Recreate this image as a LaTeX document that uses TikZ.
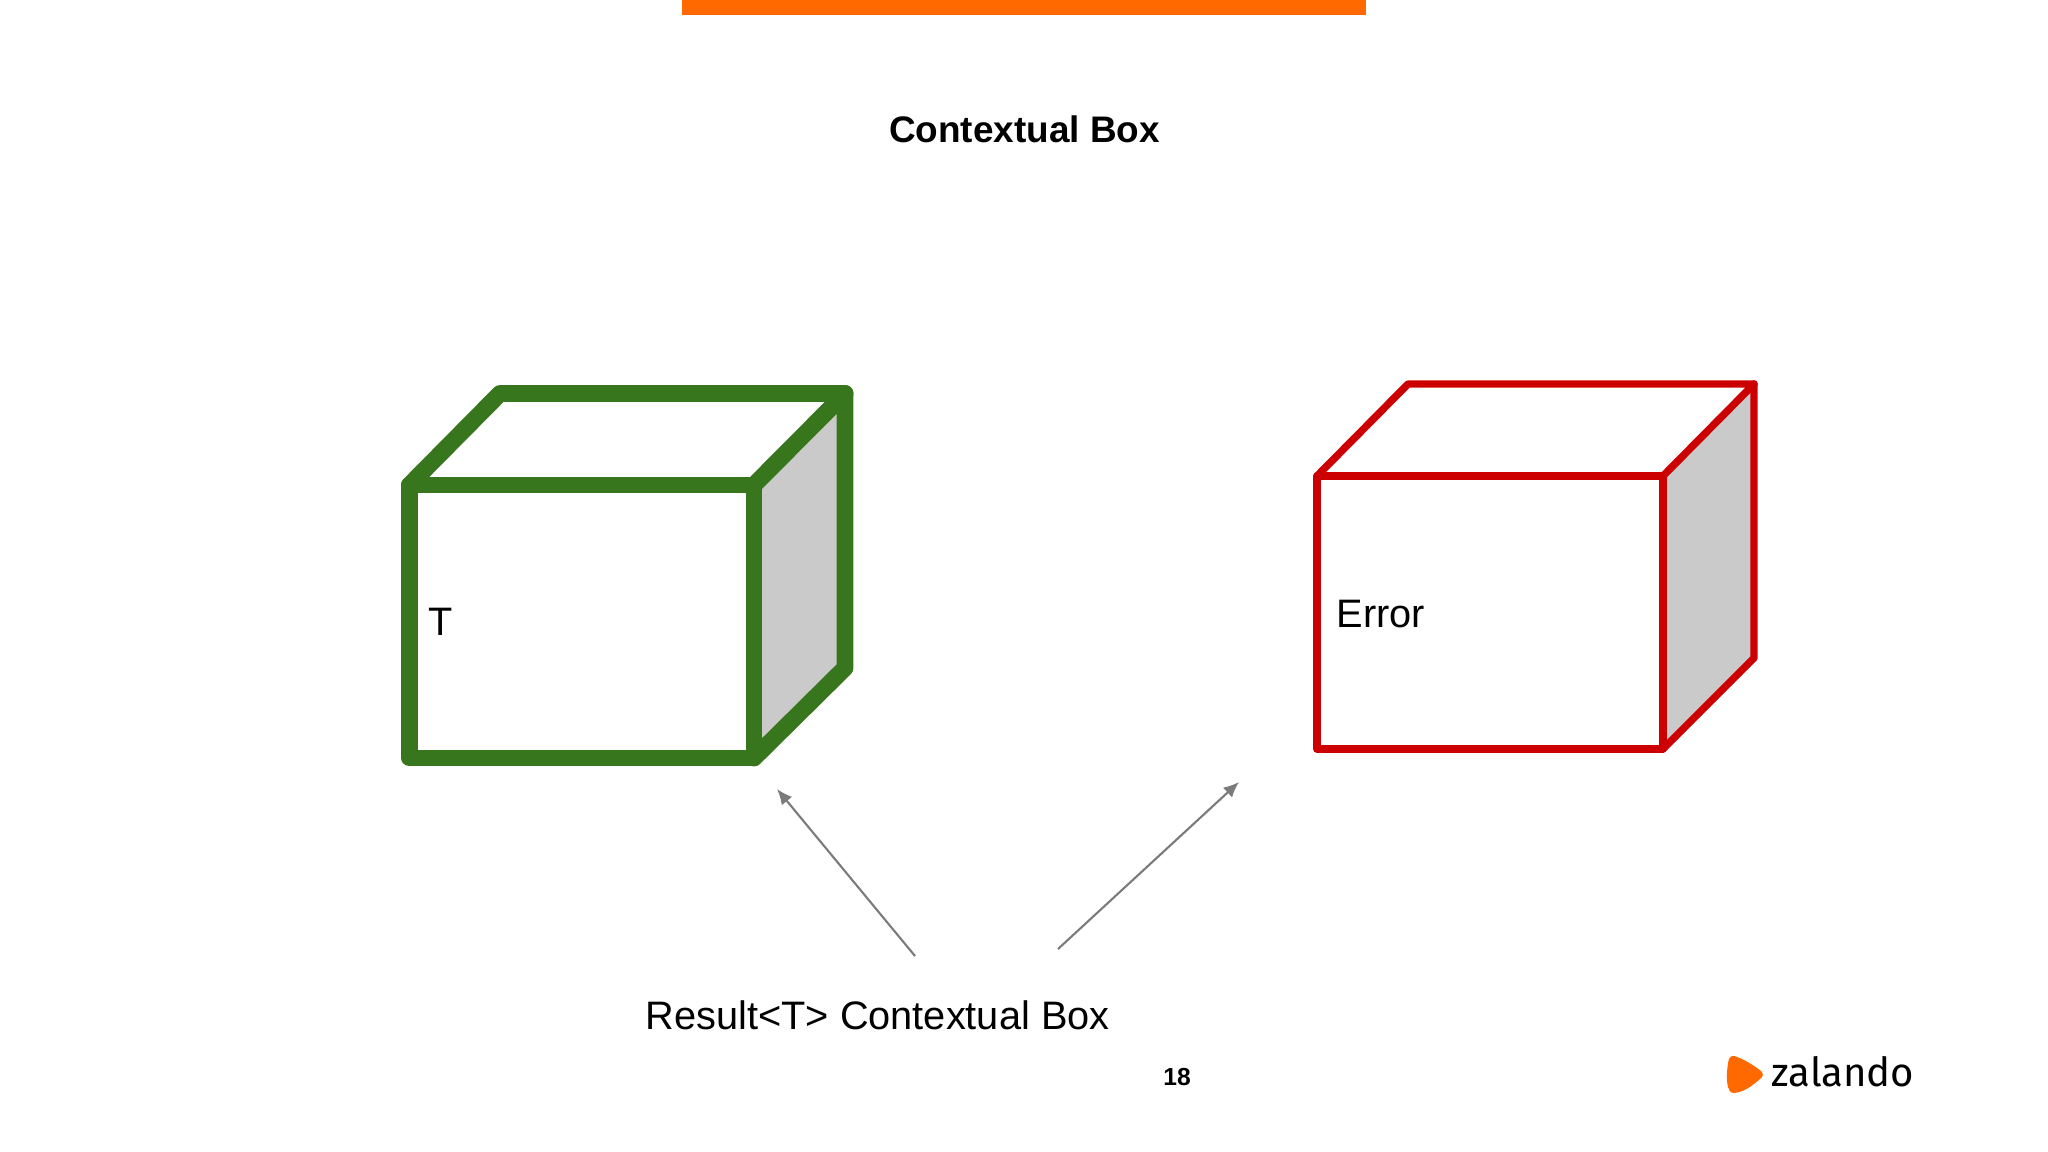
\documentclass[tikz,border=0pt]{standalone}
\usepackage{fontspec}
\setmainfont{Liberation Sans}
\newfontfamily\logofont{Fira Sans}
\usetikzlibrary{arrows.meta}
\definecolor{boxgreen}{HTML}{38761D}
\definecolor{boxred}{HTML}{CC0000}
\definecolor{boxside}{HTML}{CBCACB}
\definecolor{barorange}{HTML}{FF6900}
\definecolor{arrowgrey}{HTML}{7B7B7B}
\tikzset{
	greenbox/.style={draw=boxgreen, line width=4.8pt, line join=round, line cap=round},
	redbox/.style={draw=boxred, line width=2.1pt, line join=round, line cap=round},
	label/.style={font=\fontsize{11.3}{13}\selectfont, anchor=base west, inner sep=0pt},
	pointer/.style={draw=arrowgrey, line width=0.6pt, -{Latex[length=4.4pt,width=3.8pt]}}
}

\begin{document}
\begin{tikzpicture}[x=0.01cm, y=-0.01cm]
				\useasboundingbox (0,0) rectangle (2048,1152);
				\fill[barorange] (682,0) rectangle (1366,15);
				\node[font=\fontsize{10.5}{12}\selectfont\bfseries] (title) at (1024.5,129) {Contextual Box};
				
				\fill[boxside] (754,485) -- (845,393.5) -- (845,668) -- (754,758) -- cycle;
				\draw[greenbox] (409.5,485) rectangle (754,758);
				\draw[greenbox] (409.5,485) -- (500,393.5) -- (845,393.5) -- (754,485);
				\draw[greenbox] (845,393.5) -- (845,668) -- (754,758);
				\node[label] (tvalue) at (428,636) {T};
				
				\fill[boxside] (1663,476) -- (1754,384) -- (1754,658) -- (1663,749) -- cycle;
				\draw[redbox] (1317,476) rectangle (1663,749);
				\draw[redbox] (1317,476) -- (1408,384) -- (1754,384) -- (1663,476);
				\draw[redbox] (1754,384) -- (1754,658) -- (1663,749);
				\node[label] (error) at (1336,627) {Error};
				
				\node[label] (result) at (645,1029) {Result<T> Contextual Box};
				\coordinate (lefttail) at (915,956);
				\coordinate (lefthead) at (777,789);
				\coordinate (righttail) at (1058,949);
				\coordinate (righthead) at (1239,782);
				\draw[pointer] (lefttail) -- (lefthead);
				\draw[pointer] (righttail) -- (righthead);
				
				\node[font=\fontsize{7}{8}\selectfont\bfseries] (page) at (1177,1077) {18};
				
				\fill[barorange] (1734,1056) .. controls (1742,1058) and (1755,1066) .. (1761,1071) .. controls (1764,1074) and (1763,1077) .. (1760,1079) .. controls (1752,1086) and (1744,1092) .. (1734,1093) .. controls (1730,1093) and (1729,1090) .. (1728,1087) .. controls (1726,1080) and (1727,1066) .. (1729,1059) .. controls (1730,1056) and (1732,1056) .. (1734,1056) -- cycle;
				\node[font=\logofont\fontsize{11.4}{13}\selectfont, anchor=base west, inner sep=0pt] (logo) at (1771,1086) {zalando};
			\end{tikzpicture}
\end{document}
